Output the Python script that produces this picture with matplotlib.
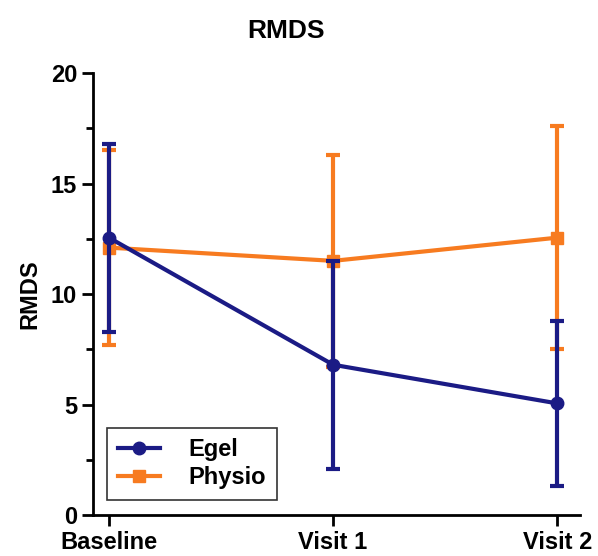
import numpy as np
import matplotlib.pyplot as plt
from matplotlib.lines import Line2D

plt.rcParams['font.family'] = ['Liberation Sans', 'DejaVu Sans']
plt.rcParams['font.weight'] = 'bold'

visits = ["Baseline", "Visit 1", "Visit 2"]
egel_mean = [12.55, 6.8, 5.05]
egel_err = [4.25, 4.7, 3.75]
physio_mean = [12.1, 11.5, 12.55]
physio_err = [4.4, 4.8, 5.05]

navy = "#1b1b85"
orange = "#f77b20"

fig = plt.figure(figsize=(5.98, 5.56), dpi=100)
ax = fig.add_axes([0.1555, 0.0737, 0.814, 0.795])

x = np.arange(len(visits))
ax.errorbar(x, physio_mean, yerr=physio_err, color=orange, lw=3, elinewidth=3,
            capsize=5, capthick=3, marker='s', ms=8, zorder=2)
ax.errorbar(x, egel_mean, yerr=egel_err, color=navy, lw=3, elinewidth=3,
            capsize=5, capthick=3, marker='o', ms=9, zorder=3)

ax.set_xlim(-0.071, 2.1)
ax.set_ylim(0, 20)
ax.set_xticks(x)
ax.set_xticklabels(visits)
ax.set_yticks([0, 5, 10, 15, 20])
ax.set_yticks(np.arange(0, 20, 2.5), minor=True)
for s in ['top', 'right']:
    ax.spines[s].set_visible(False)
for s in ['left', 'bottom']:
    ax.spines[s].set_linewidth(2)
ax.tick_params(axis='both', which='major', width=2, length=8, labelsize=17)
ax.tick_params(axis='y', which='minor', width=2, length=5)

ax.set_ylabel("RMDS", fontsize=17, fontweight='bold', labelpad=7)
fig.text(0.478, 0.945, "RMDS", ha='center', va='center', fontsize=19, fontweight='bold')

# legend: plain line + marker, no error caps
handles = [Line2D([], [], color=navy, lw=3, marker='o', ms=9),
           Line2D([], [], color=orange, lw=3, marker='s', ms=8)]
leg = ax.legend(handles, ["Egel", "Physio"], loc='lower left', bbox_to_anchor=(0.029, 0.035),
                fontsize=17, frameon=True, fancybox=False, edgecolor='black',
                borderpad=0.45, handlelength=1.8, handletextpad=1.2, labelspacing=0.2,
                borderaxespad=0)
leg.get_frame().set_linewidth(1.2)

fig.savefig("out.png", dpi=100)
